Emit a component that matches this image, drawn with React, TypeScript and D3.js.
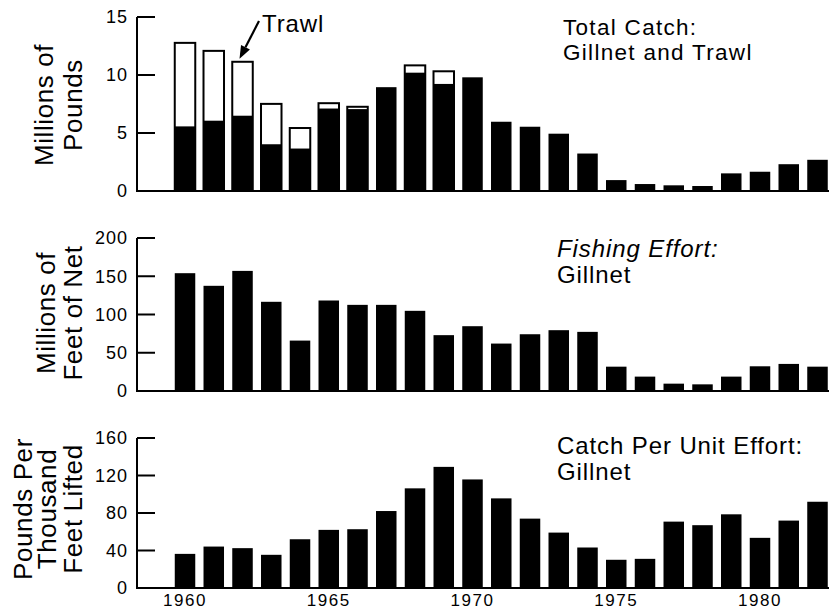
import React, { useEffect, useRef } from 'react';
import * as d3 from 'd3';

const years = d3.range(1960, 1983);
const gillnetCatch = [5.57, 6.06, 6.49, 4.03, 3.66, 7.11, 7.06, 8.95, 10.2, 9.23, 9.8, 5.97, 5.54, 4.94, 3.23, 0.94, 0.6, 0.49, 0.43, 1.52, 1.66, 2.31, 2.69];
const trawlCatch = [7.2, 6.02, 4.65, 3.48, 1.77, 0.46, 0.2, 0, 0.63, 1.09, 0, 0, 0, 0, 0, 0, 0, 0, 0, 0, 0, 0, 0];
const effort = [154, 137.5, 157, 116.6, 65.9, 118.3, 112.6, 112.6, 104.8, 73, 84.7, 62, 74.2, 79.5, 77.3, 31.8, 18.8, 9.6, 8.7, 18.8, 32.3, 35.4, 31.8];
const cpue = [36.4, 44.2, 42.5, 35.4, 52, 62, 62.7, 82.1, 106.3, 129.2, 115.8, 95.6, 74, 59.1, 43.2, 30.1, 31.1, 70.8, 67, 78.6, 53.5, 71.9, 92];

const catchTicks = [0, 5, 10, 15];
const effortTicks = [0, 50, 100, 150, 200];
const cpueTicks = [0, 40, 80, 120, 160];
const yearTicks = [1960, 1965, 1970, 1975, 1980];

const catchLabel = ['Millions of', 'Pounds'];
const effortLabel = ['Millions of', 'Feet of Net'];
const cpueLabel = ['Pounds Per', 'Thousand', 'Feet Lifted'];
const catchTitle = ['Total Catch:', 'Gillnet and Trawl'];
const effortTitle = ['Fishing Effort:', 'Gillnet'];
const cpueTitle = ['Catch Per Unit Effort:', 'Gillnet'];

const FONT = '"Liberation Sans", Arial, Helvetica, sans-serif';

const App = () => {
    const chartRef = useRef<SVGSVGElement>(null);

    useEffect(() => {
        document.body.style.margin = '0';
        drawChart();
    }, []);

    const drawChart = () => {
        const svg = d3.select(chartRef.current);
        svg.selectAll('*').remove();

        const axisX = 137;
        const x = d3.scaleLinear().domain([1958.33, 1982.4]).range([axisX, 829]);
        const barW = 20.5;

        const panels = [
            { top: 17, bottom: 191, max: 15, ticks: catchTicks, label: catchLabel, labelX: [53, 82], labelY: 105, title: catchTitle, titleX: 563, titleY: [35, 60] },
            { top: 238, bottom: 391, max: 200, ticks: effortTicks, label: effortLabel, labelX: [55, 82], labelY: 313, title: effortTitle, titleX: 557, titleY: [257, 283] },
            { top: 438, bottom: 588, max: 160, ticks: cpueTicks, label: cpueLabel, labelX: [32, 56, 82], labelY: 509, title: cpueTitle, titleX: 557, titleY: [454, 480] },
        ];

        const scales = panels.map(p => d3.scaleLinear().domain([0, p.max]).range([p.bottom, p.top]));

        panels.forEach((p, pi) => {
            const y = scales[pi];
            const g = svg.append('g');

            // axes
            g.append('line')
                .attr('x1', axisX).attr('x2', axisX)
                .attr('y1', y(p.max)).attr('y2', y(0))
                .attr('stroke', '#000').attr('stroke-width', 2);
            g.append('line')
                .attr('x1', axisX - 1).attr('x2', 829)
                .attr('y1', y(0)).attr('y2', y(0))
                .attr('stroke', '#000').attr('stroke-width', 2);

            g.selectAll('line.tick')
                .data(p.ticks.filter(t => t > 0))
                .enter()
                .append('line')
                .attr('class', 'tick')
                .attr('x1', axisX).attr('x2', axisX + 18)
                .attr('y1', d => y(d)).attr('y2', d => y(d))
                .attr('stroke', '#000').attr('stroke-width', 2);

            g.selectAll('text.tl')
                .data(p.ticks)
                .enter()
                .append('text')
                .attr('class', 'tl')
                .attr('x', axisX - 9)
                .attr('y', d => y(d))
                .attr('dy', '0.36em')
                .attr('text-anchor', 'end')
                .attr('font-family', FONT)
                .attr('font-size', 18)
                .attr('letter-spacing', 1)
                .text(d => d);

            // y label
            p.label.forEach((line, i) => {
                g.append('text')
                    .attr('transform', `translate(${p.labelX[i]}, ${p.labelY}) rotate(-90)`)
                    .attr('text-anchor', 'middle')
                    .attr('font-family', FONT)
                    .attr('font-size', 26)
                    .attr('letter-spacing', 0.6)
                    .text(line);
            });

            // title
            p.title.forEach((line, i) => {
                g.append('text')
                    .attr('x', p.titleX)
                    .attr('y', p.titleY[i])
                    .attr('font-family', FONT)
                    .attr('font-size', pi === 0 ? 22.5 : 24)
                    .attr('letter-spacing', pi === 0 ? 1.3 : 0.9)
                    .attr('font-style', pi === 1 && i === 0 ? 'italic' : 'normal')
                    .text(line);
            });
        });

        // top: total catch, trawl outlined on top of gillnet
        const y0 = scales[0];
        const top = svg.append('g');
        top.selectAll('rect.trawl')
            .data(years.map((yr, i) => ({ yr, g: gillnetCatch[i], t: trawlCatch[i] })).filter(d => d.t > 0))
            .enter()
            .append('rect')
            .attr('class', 'trawl')
            .attr('x', d => x(d.yr) - barW / 2)
            .attr('width', barW)
            .attr('y', d => y0(d.g + d.t))
            .attr('height', d => y0(0) - y0(d.g + d.t))
            .attr('fill', '#fff')
            .attr('stroke', '#000')
            .attr('stroke-width', 2);
        top.selectAll('rect.gill')
            .data(years.map((yr, i) => ({ yr, v: gillnetCatch[i] })))
            .enter()
            .append('rect')
            .attr('class', 'gill')
            .attr('x', d => x(d.yr) - barW / 2)
            .attr('width', barW)
            .attr('y', d => y0(d.v))
            .attr('height', d => y0(0) - y0(d.v))
            .attr('fill', '#000');

        [effort, cpue].forEach((vals, k) => {
            const y = scales[k + 1];
            svg.append('g')
                .selectAll('rect')
                .data(years.map((yr, i) => ({ yr, v: vals[i] })))
                .enter()
                .append('rect')
                .attr('x', d => x(d.yr) - barW / 2)
                .attr('width', barW)
                .attr('y', d => y(d.v))
                .attr('height', d => y(0) - y(d.v))
                .attr('fill', '#000');
        });

        // year labels
        svg.append('g')
            .selectAll('text')
            .data(yearTicks)
            .enter()
            .append('text')
            .attr('x', d => x(d))
            .attr('y', 606)
            .attr('text-anchor', 'middle')
            .attr('font-family', FONT)
            .attr('font-size', 17)
            .attr('letter-spacing', 1.5)
            .text(d => d);

        // Trawl annotation
        svg.append('text')
            .attr('x', 262)
            .attr('y', 32)
            .attr('font-family', FONT)
            .attr('font-size', 24)
            .attr('letter-spacing', 0.9)
            .text('Trawl');
        const tip: [number, number] = [x(1962) - 3, y0(gillnetCatch[2] + trawlCatch[2]) - 3];
        const start: [number, number] = [259, 21];
        const ang = Math.atan2(tip[1] - start[1], tip[0] - start[0]);
        const headLen = 13;
        const headW = 5;
        const bx = tip[0] - headLen * Math.cos(ang);
        const by = tip[1] - headLen * Math.sin(ang);
        svg.append('line')
            .attr('x1', start[0]).attr('y1', start[1])
            .attr('x2', bx).attr('y2', by)
            .attr('stroke', '#000').attr('stroke-width', 2.2);
        svg.append('path')
            .attr('d', d3.line()([
                tip,
                [bx + headW * Math.sin(ang), by - headW * Math.cos(ang)],
                [bx - headW * Math.sin(ang), by + headW * Math.cos(ang)],
            ]) + 'Z')
            .attr('fill', '#000');
    };

    return <svg ref={chartRef} width="829" height="611" style={{ display: 'block' }} />;
};

export default App;
